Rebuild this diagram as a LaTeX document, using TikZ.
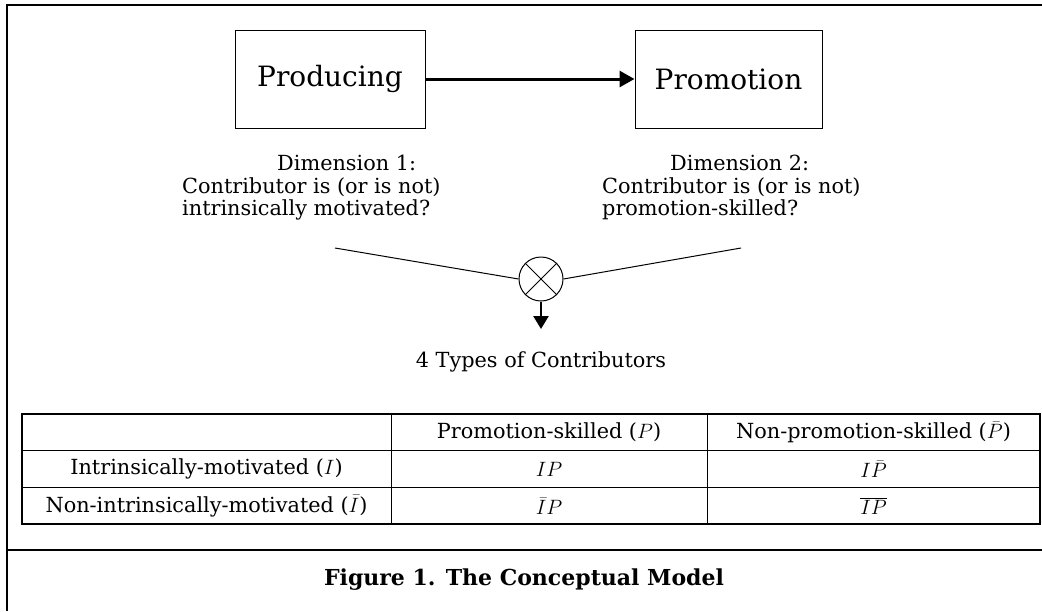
\documentclass[tikz,border=0pt]{standalone}
\usepackage{fontspec}
\setmainfont{DejaVu Serif}
\usetikzlibrary{arrows.meta,positioning}

\begin{document}
\begin{tikzpicture}[x=1pt,y=-1pt]
	\tikzset{BoxStyle/.style =
	{draw,
		shape = rectangle,
		line width = 1pt,
		minimum height = 98pt,
		font = \fontsize{28}{30}\selectfont},
	TextStyle/.style = {font = \fontsize{20.8}{22.5}\selectfont},
	CellStyle/.style = {TextStyle, inner sep = 0pt},
	FrameLine/.style = {line width = 2.5pt}}
\useasboundingbox (0,0) rectangle (1042,611);
% frame
\draw[FrameLine] (1042,5) -- (7,5) -- (7,611);
\draw[FrameLine] (7,550) -- (1042,550);

\node[BoxStyle, minimum width = 190pt] (prod) at (330,79) {Producing};
\node[BoxStyle, minimum width = 187pt] (promo) at (728.5,79) {Promotion};
\draw[line width = 3pt, -{Triangle[length=15pt,width=16pt]}] (prod) -- (promo);

\node[TextStyle, anchor = north west, align = left, inner sep = 0pt] (dimA) at (182,155)
	{\hspace*{95pt}Dimension 1:\\Contributor is (or is not)\\intrinsically motivated?};
\node[TextStyle, anchor = north west, align = left, inner sep = 0pt] (dimB) at (602,155)
	{\hspace*{68pt}Dimension 2:\\Contributor is (or is not)\\promotion-skilled?};

\coordinate (legA) at (335,248);
\coordinate (legB) at (741,248);
\node[draw, circle, line width = 1pt, minimum size = 44pt, inner sep = 0pt] (mix) at (541,279) {};
\draw[line width = 1pt] (mix.north west) -- (mix.south east);
\draw[line width = 1pt] (mix.north east) -- (mix.south west);
\draw[line width = 1pt] (legA) -- (mix.west);
\draw[line width = 1pt] (legB) -- (mix.east);
\coordinate (tip) at (541,329);
\draw[line width = 2.5pt, -{Triangle[length=13pt,width=15pt]}] (mix.south) -- (tip);
\node[TextStyle] (types) at (541,362) {4 Types of Contributors};

% table
\draw[line width = 1.5pt] (22,414) rectangle (1040,524);
\draw[line width = 1pt] (22,450.7) -- (1040,450.7);
\draw[line width = 1pt] (22,487.3) -- (1040,487.3);
\draw[line width = 1pt] (391,414) -- (391,524);
\draw[line width = 1pt] (707,414) -- (707,524);
\node[CellStyle] (headP) at (549,432) {Promotion-skilled ($P$)};
\node[CellStyle] (headNP) at (873.5,432) {Non-promotion-skilled ($\bar{P}$)};
\node[CellStyle] (rowI) at (206.5,469) {Intrinsically-motivated ($I$)};
\node[CellStyle] (cellIP) at (549,469) {$IP$};
\node[CellStyle] (cellINP) at (873.5,469) {$I\bar{P}$};
\node[CellStyle] (rowNI) at (206.5,506) {Non-intrinsically-motivated ($\bar{I}$)};
\node[CellStyle] (cellNIP) at (549,506) {$\bar{I}P$};
\node[CellStyle] (cellNINP) at (873.5,506) {$\overline{IP}$};

\node[font = \fontsize{22}{26}\selectfont\bfseries] (caption) at (524,580) {Figure 1. The Conceptual Model};
\end{tikzpicture}
\end{document}
